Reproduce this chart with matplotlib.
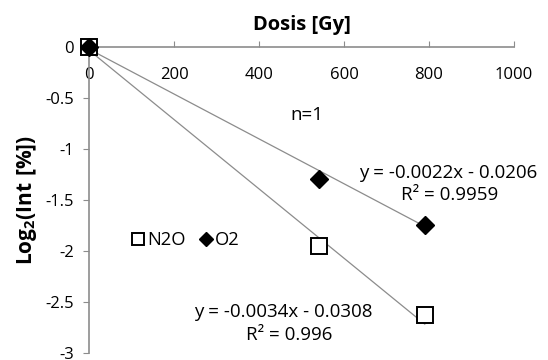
import matplotlib
matplotlib.use("Agg")
import matplotlib.pyplot as plt
import numpy as np

plt.rcParams["font.family"] = ["Open Sans", "DejaVu Sans"]
plt.rcParams["mathtext.fontset"] = "custom"
plt.rcParams["mathtext.rm"] = "Open Sans"
plt.rcParams["mathtext.bf"] = "Open Sans:bold"

# data
dose = [0, 540, 790]
n2o = [0, -1.95, -2.63]
o2 = [0, -1.29, -1.745]

# trendlines (as printed on the chart)
n2o_fit = (-0.0034, -0.0308)
o2_fit = (-0.0022, -0.0206)
fit_range = [0, 790]

xticks = [0, 200, 400, 600, 800, 1000]
yticks = [0, -0.5, -1, -1.5, -2, -2.5, -3]

tick_fs = 12
txt_fs = 13.5

fig = plt.figure(figsize=(5.48, 3.6), dpi=100)
ax = fig.add_axes([0.1624, 0.0194, 0.7756, 0.85])

gray = "#8c8c8c"
xs = np.array(fit_range)
ax.plot(xs, n2o_fit[0] * xs + n2o_fit[1], color=gray, lw=0.9, zorder=1)
ax.plot(xs, o2_fit[0] * xs + o2_fit[1], color=gray, lw=0.9, zorder=1)

ax.plot(dose, n2o, ls="none", marker="s", ms=11, mfc="white", mec="black",
        mew=1.4, label="N2O", zorder=3, clip_on=False)
ax.plot(dose, o2, ls="none", marker="D", ms=9, mfc="black", mec="black",
        label="O2", zorder=4, clip_on=False)

ax.set_xlim(0, 1000)
ax.set_ylim(-3, 0)
ax.set_xticks(xticks)
ax.set_xticklabels([str(t) for t in xticks])
ax.set_yticks(yticks)
ax.set_yticklabels(["0", "-0.5", "-1", "-1.5", "-2", "-2.5", "-3"])

for s in ["right", "bottom"]:
    ax.spines[s].set_visible(False)
for s in ["left", "top"]:
    ax.spines[s].set_color(gray)
    ax.spines[s].set_linewidth(1.2)

ax.tick_params(axis="x", top=True, labeltop=True, bottom=False,
               labelbottom=False, direction="out", length=4, color=gray,
               pad=-30, labelsize=tick_fs)
ax.tick_params(axis="y", direction="out", length=4, color=gray, pad=7,
               labelsize=tick_fs)

ax.xaxis.set_label_position("top")
ax.set_xlabel("Dosis [Gy]", fontsize=14.5, fontweight="bold", labelpad=8)
ax.set_ylabel("$\\mathbf{Log_2(Int\\ [\\%])}$", fontsize=15, labelpad=4)

ax.legend(loc="center left", bbox_to_anchor=(0.068, 0.368), ncol=2,
          frameon=False, fontsize=13.2, handletextpad=0.1, columnspacing=0.7,
          handlelength=0.8, markerscale=0.78, borderpad=0.2)

ax.text(513, -0.67, "n=1", fontsize=txt_fs, ha="center", va="center")
ax.text(845, -1.235, "y = -0.0022x - 0.0206", fontsize=txt_fs, ha="center",
        va="center")
ax.text(849, -1.45, "R² = 0.9959", fontsize=txt_fs, ha="center", va="center")
ax.text(456, -2.60, "y = -0.0034x - 0.0308", fontsize=txt_fs, ha="center",
        va="center")
ax.text(470, -2.82, "R² = 0.996", fontsize=txt_fs, ha="center", va="center")

fig.savefig("out.png", dpi=100)
